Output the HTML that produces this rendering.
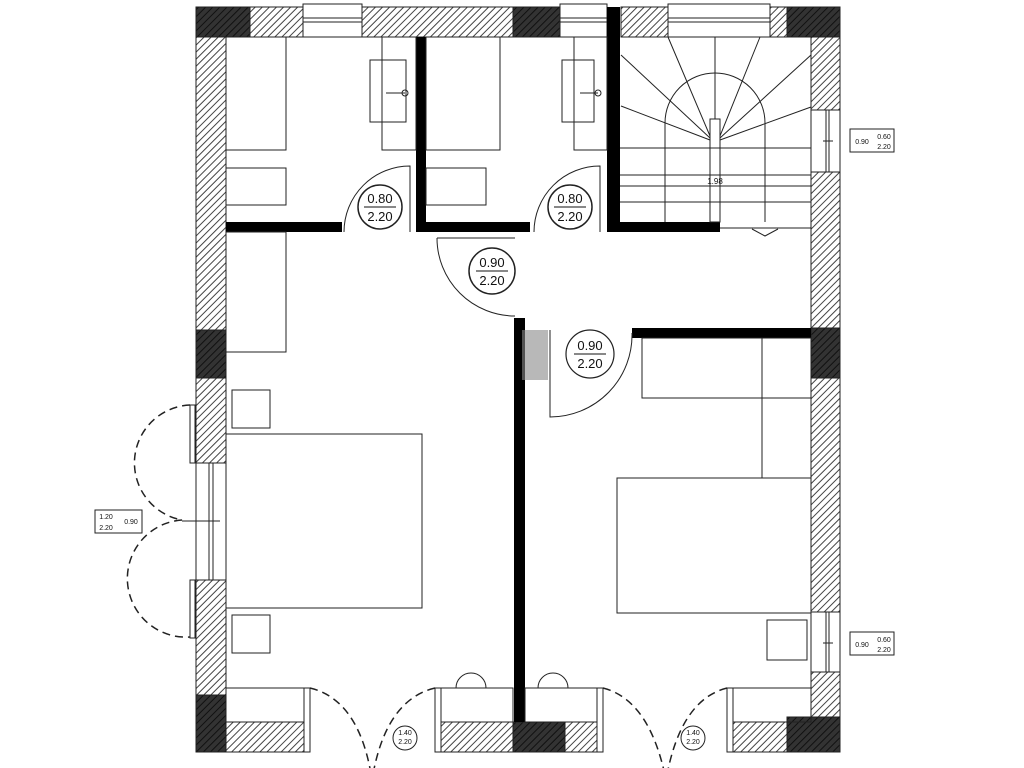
<!DOCTYPE html>
<html><head><meta charset="utf-8"><style>
html,body{margin:0;padding:0;background:#fff;}
svg{display:block;font-family:"Liberation Sans",sans-serif;}
</style></head><body>
<svg width="1024" height="768" viewBox="0 0 1024 768" xmlns="http://www.w3.org/2000/svg">
<defs>
<pattern id="h" width="5" height="5" patternUnits="userSpaceOnUse" patternTransform="rotate(45)">
<rect width="5" height="5" fill="#fff"/><line x1="0" y1="0" x2="0" y2="5" stroke="#444" stroke-width="2"/></pattern>
<pattern id="d" width="5" height="5" patternUnits="userSpaceOnUse" patternTransform="rotate(45)">
<rect width="5" height="5" fill="#333"/><line x1="0" y1="0" x2="0" y2="5" stroke="#111" stroke-width="2"/></pattern>
</defs>
<g stroke="#222" stroke-width="1">
<!-- top wall -->
<rect x="196" y="7" width="54" height="30" fill="url(#d)"/>
<rect x="250" y="7" width="53" height="30" fill="url(#h)"/>
<rect x="362" y="7" width="151" height="30" fill="url(#h)"/>
<rect x="513" y="7" width="47" height="30" fill="url(#d)"/>
<rect x="621" y="7" width="47" height="30" fill="url(#h)"/>
<rect x="770" y="7" width="17" height="30" fill="url(#h)"/>
<rect x="787" y="7" width="53" height="30" fill="url(#d)"/>
<!-- windows top -->
<rect x="303" y="4" width="59" height="33" fill="#fff"/><line x1="303" y1="18" x2="362" y2="18"/><line x1="303" y1="22" x2="362" y2="22"/>
<rect x="560" y="4" width="47" height="33" fill="#fff"/><line x1="560" y1="18" x2="607" y2="18"/><line x1="560" y1="22" x2="607" y2="22"/>
<rect x="668" y="4" width="102" height="33" fill="#fff"/><line x1="668" y1="18" x2="770" y2="18"/><line x1="668" y1="22" x2="770" y2="22"/>
<!-- left wall -->
<rect x="196" y="37" width="30" height="293" fill="url(#h)"/>
<rect x="196" y="330" width="30" height="48" fill="url(#d)"/>
<rect x="196" y="378" width="30" height="85" fill="url(#h)"/>
<rect x="196" y="463" width="30" height="117" fill="#fff"/>
<line x1="209" y1="463" x2="209" y2="580"/><line x1="213" y1="463" x2="213" y2="580"/>
<rect x="196" y="580" width="30" height="115" fill="url(#h)"/>
<rect x="196" y="695" width="30" height="57" fill="url(#d)"/>
<!-- right wall -->
<rect x="811" y="37" width="29" height="73" fill="url(#h)"/>
<rect x="811" y="110" width="29" height="62" fill="#fff"/><line x1="826" y1="110" x2="826" y2="172"/><line x1="829" y1="110" x2="829" y2="172"/>
<rect x="811" y="172" width="29" height="156" fill="url(#h)"/>
<rect x="811" y="328" width="29" height="50" fill="url(#d)"/>
<rect x="811" y="378" width="29" height="234" fill="url(#h)"/>
<rect x="811" y="612" width="29" height="60" fill="#fff"/><line x1="826" y1="612" x2="826" y2="672"/><line x1="829" y1="612" x2="829" y2="672"/>
<rect x="811" y="672" width="29" height="45" fill="url(#h)"/>
<rect x="787" y="717" width="53" height="35" fill="url(#d)"/>
<!-- bottom wall -->
<rect x="226" y="722" width="78" height="30" fill="url(#h)"/>
<rect x="441" y="722" width="72" height="30" fill="url(#h)"/>
<rect x="513" y="722" width="52" height="30" fill="url(#d)"/>
<rect x="565" y="722" width="32" height="30" fill="url(#h)"/>
<rect x="733" y="722" width="54" height="30" fill="url(#h)"/>
</g>
<!-- interior black walls -->
<g fill="#000">
<rect x="226" y="222" width="116" height="10"/>
<rect x="416" y="37" width="10" height="195"/>
<rect x="416" y="222" width="114" height="10"/>
<rect x="607" y="7" width="13" height="225"/>
<rect x="607" y="222" width="113" height="10"/>
<rect x="514" y="318" width="11" height="404"/>
<rect x="632" y="328" width="179" height="10"/>
</g>
<rect x="522" y="330" width="26" height="50" fill="#888" opacity="0.6"/>
<g fill="none" stroke="#222" stroke-width="1">
<!-- bathrooms furniture -->
<rect x="226" y="37" width="60" height="113"/><rect x="226" y="168" width="60" height="37"/>
<rect x="382" y="37" width="34" height="113"/><rect x="370" y="60" width="36" height="62"/>
<line x1="386" y1="93" x2="405" y2="93"/><circle cx="405" cy="93" r="3"/>
<rect x="426" y="37" width="74" height="113"/><rect x="426" y="168" width="60" height="37"/>
<rect x="574" y="37" width="33" height="113"/><rect x="562" y="60" width="32" height="62"/>
<line x1="580" y1="93" x2="598" y2="93"/><circle cx="598" cy="93" r="3"/>
<!-- stairs -->
<path d="M665,222 V123 A50,50 0 0 1 765,123 V222"/>
<rect x="710" y="119" width="10" height="103"/>
<line x1="620" y1="148" x2="811" y2="148"/>
<line x1="620" y1="175" x2="811" y2="175"/>
<line x1="620" y1="186" x2="811" y2="186"/>
<line x1="620" y1="202" x2="811" y2="202"/>
<line x1="720" y1="228" x2="811" y2="228"/>
<line x1="715" y1="37" x2="715" y2="119"/>
<line x1="710" y1="140" x2="621" y2="106"/>
<line x1="710" y1="138" x2="621" y2="55"/>
<line x1="710" y1="136" x2="668" y2="37"/>
<line x1="720" y1="136" x2="760" y2="37"/>
<line x1="720" y1="138" x2="811" y2="55"/>
<line x1="720" y1="140" x2="811" y2="107"/>
<path d="M752,229 L765,236 L778,229"/>
<!-- doors -->
<path d="M344,232 A66,66 0 0 1 410,166 V232"/>
<path d="M534,232 A66,66 0 0 1 600,166 V232"/>
<path d="M437,238 H515 M437,238 A78,78 0 0 0 515,316"/>
<path d="M550,330 V417 A82,82 0 0 0 632,333"/>
<circle cx="380" cy="207" r="22" stroke-width="1.5"/>
<circle cx="570" cy="207" r="22" stroke-width="1.5"/>
<circle cx="492" cy="271" r="23" stroke-width="1.5"/>
<circle cx="590" cy="354" r="24" stroke-width="1.2"/>
<!-- left bedroom -->
<rect x="226" y="232" width="60" height="120"/>
<rect x="232" y="390" width="38" height="38"/>
<rect x="232" y="615" width="38" height="38"/>
<rect x="226" y="434" width="196" height="174"/>
<!-- right bedroom -->
<rect x="642" y="338" width="169" height="60"/>
<rect x="762" y="338" width="49" height="140"/>
<rect x="617" y="478" width="194" height="135"/>
<rect x="767" y="620" width="40" height="40"/>
<!-- bottom -->
<rect x="226" y="688" width="78" height="34"/><rect x="441" y="688" width="72" height="34"/>
<rect x="525" y="688" width="72" height="34"/><rect x="733" y="688" width="78" height="34"/>
<rect x="304" y="688" width="6" height="64"/><rect x="435" y="688" width="6" height="64"/>
<rect x="597" y="688" width="6" height="64"/><rect x="727" y="688" width="6" height="64"/>
<path d="M456,688 A15,15 0 0 1 486,688"/>
<path d="M538,688 A15,15 0 0 1 568,688"/>
<g stroke-dasharray="8,5" stroke-width="1.5">
<path d="M310,688 Q360,700 372,780"/><path d="M435,688 Q385,700 372,780"/>
<path d="M603,688 Q650,700 666,780"/><path d="M727,688 Q680,700 666,780"/>
<path d="M190,405 A58,58 0 0 0 182,520 A58,58 0 0 0 190,637"/>
</g>
<rect x="190" y="405" width="5" height="58"/><rect x="190" y="580" width="5" height="58"/>
<circle cx="405" cy="738" r="12"/><circle cx="693" cy="738" r="12"/>
<rect x="95" y="510" width="47" height="23"/>
<rect x="850" y="129" width="44" height="23"/>
<rect x="850" y="632" width="44" height="23"/>
<line x1="823" y1="141" x2="833" y2="141"/><line x1="823" y1="643" x2="833" y2="643"/>
<line x1="182" y1="521" x2="220" y2="521"/>
</g>
<g fill="#111" text-anchor="middle">
<text x="380" y="203" font-size="13">0.80</text><line x1="364" y1="207" x2="396" y2="207" stroke="#111"/><text x="380" y="221" font-size="13">2.20</text>
<text x="570" y="203" font-size="13">0.80</text><line x1="554" y1="207" x2="586" y2="207" stroke="#111"/><text x="570" y="221" font-size="13">2.20</text>
<text x="492" y="267" font-size="13">0.90</text><line x1="476" y1="271" x2="508" y2="271" stroke="#111"/><text x="492" y="285" font-size="13">2.20</text>
<text x="590" y="350" font-size="13">0.90</text><line x1="574" y1="354" x2="606" y2="354" stroke="#111"/><text x="590" y="368" font-size="13">2.20</text>
<text x="715" y="184" font-size="8">1.98</text>
<text x="405" y="735" font-size="7">1.40</text><text x="405" y="744" font-size="7">2.20</text>
<text x="693" y="735" font-size="7">1.40</text><text x="693" y="744" font-size="7">2.20</text>
<text x="106" y="519" font-size="7">1.20</text><text x="106" y="530" font-size="7">2.20</text><text x="131" y="524" font-size="7">0.90</text>
<text x="862" y="144" font-size="7">0.90</text><text x="884" y="139" font-size="7">0.60</text><text x="884" y="149" font-size="7">2.20</text>
<text x="862" y="647" font-size="7">0.90</text><text x="884" y="642" font-size="7">0.60</text><text x="884" y="652" font-size="7">2.20</text>
</g>
</svg>
</body></html>
